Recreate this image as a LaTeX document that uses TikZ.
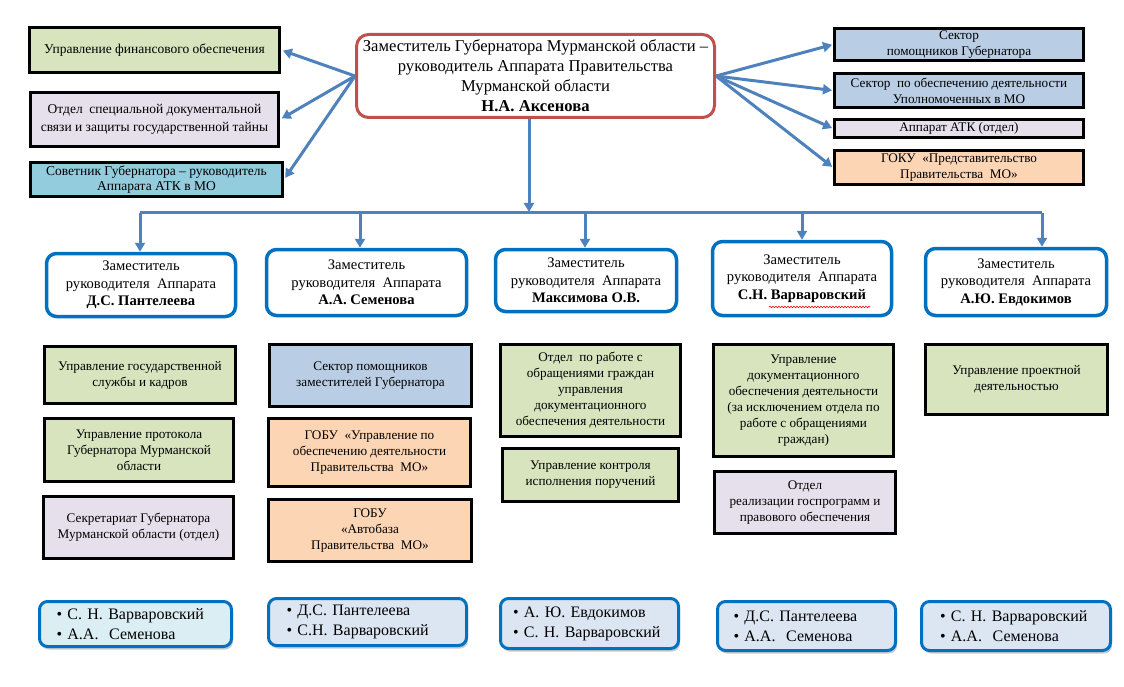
\documentclass[tikz,border=0pt]{standalone}
\usepackage{fontspec}
\setmainfont{Liberation Serif}
\usetikzlibrary{arrows.meta,shadows,decorations.pathmorphing}
\definecolor{arrblue}{HTML}{4F81BD}
\definecolor{depblue}{HTML}{0070C0}
\definecolor{redb}{HTML}{C0504D}
\definecolor{fgreen}{HTML}{D7E4BD}
\definecolor{flav}{HTML}{E6E0EC}
\definecolor{fcyan}{HTML}{93CDDD}
\definecolor{fblue}{HTML}{B9CDE5}
\definecolor{fpeach}{HTML}{FCD5B5}
\definecolor{fpa}{HTML}{DAEEF3}
\definecolor{fpb}{HTML}{DCE6F2}
\begin{document}
\begin{tikzpicture}[x=1pt,y=-1pt,
  unit/.style={draw=black, line width=3pt, inner sep=1pt, align=center, font=\fontsize{13.2}{16}\selectfont},
  ctrbox/.style={draw=redb, line width=3pt, rounded corners=12pt, fill=white, align=center, inner sep=1pt, font=\fontsize{16.6}{20}\selectfont},
  dep/.style={draw=depblue, line width=3.5pt, rounded corners=10pt, fill=white, align=center, inner sep=1pt, font=\fontsize{14.6}{17.5}\selectfont},
  pbox/.style={draw=depblue, line width=3pt, rounded corners=8pt, align=left, inner sep=1pt, font=\fontsize{16}{20}\selectfont,
    drop shadow={shadow xshift=1.5pt, shadow yshift=-3pt, fill=black!60, opacity=0.35}},
  arr/.style={draw=arrblue, line width=3pt, -{Triangle[length=9pt,width=10pt]}},
  bus/.style={draw=arrblue, line width=3pt}
]
\useasboundingbox (0,0) rectangle (1124,687);

% top left
\node[unit, fill=fgreen, minimum width=250, minimum height=45, font=\fontsize{13.5}{16}\selectfont] (fin) at (154.5,50) {Управление финансового обеспечения};
\node[unit, fill=flav, minimum width=248, minimum height=54, font=\fontsize{13.5}{18}\selectfont] (spec) at (154.5,119.5) {Отдел\ \ специальной документальной\\связи и защиты государственной тайны};
\node[unit, fill=fcyan, minimum width=252, minimum height=34, font=\fontsize{13.5}{15}\selectfont] (sov) at (156.5,179.5) {Советник Губернатора – руководитель\\Аппарата АТК в МО};

% center
\node[ctrbox, minimum width=358, minimum height=83] (ctr) at (535.5,76) {Заместитель Губернатора Мурманской области –\\руководитель Аппарата Правительства\\Мурманской области\\\textbf{Н.А. Аксенова}};

% top right
\node[unit, fill=fblue, minimum width=249, minimum height=32] (sp) at (959,44.5) {Сектор\\помощников Губернатора};
\node[unit, fill=fblue, minimum width=249, minimum height=34] (so) at (959,90.5) {Сектор\ \ по обеспечению деятельности\\Уполномоченных в МО};
\node[unit, fill=flav, minimum width=249, minimum height=18] (atk) at (959,128.5) {Аппарат АТК (отдел)};
\node[unit, fill=fpeach, minimum width=249, minimum height=34] (goku) at (959,167.5) {ГОКУ\ \ «Представительство\\Правительства\ \ МО»};

% arrows from center
\draw[arr, shorten >=2pt] (ctr.west) -- (fin.east);
\draw[arr, shorten >=2pt] (ctr.west) -- (spec.east);
\draw[arr, shorten >=2pt] (ctr.west) -- (sov.east);
\draw[arr, shorten >=1pt] (ctr.east) -- (sp.west);
\draw[arr, shorten >=1pt] (ctr.east) -- (so.west);
\draw[arr, shorten >=1pt] (ctr.east) -- (atk.west);
\draw[arr, shorten >=1pt] (ctr.east) -- (goku.west);

% deputies
\node[dep, minimum width=189, minimum height=63] (d1) at (141,285) {Заместитель\\руководителя\ \ Аппарата\\\textbf{Д.С. Пантелеева}};
\node[dep, minimum width=200, minimum height=66] (d2) at (366.5,282.5) {Заместитель\\руководителя\ \ Аппарата\\\textbf{А.А. Семенова}};
\node[dep, minimum width=181, minimum height=62] (d3) at (586,280.5) {Заместитель\\руководителя\ \ Аппарата\\\textbf{Максимова О.В.}};
\node[dep, minimum width=179, minimum height=74] (d4) at (802,278.5) {Заместитель\\руководителя\ \ Аппарата\\\textbf{С.Н. Варваровский}};
\node[dep, minimum width=181, minimum height=67] (d5) at (1016,282) {Заместитель\\руководителя\ \ Аппарата\\\textbf{А.Ю. Евдокимов}};
\draw[red, line width=0.6pt, decorate, decoration={snake, amplitude=0.8pt, segment length=3pt}] (769,307) -- (870,307);

% bus
\coordinate (bc) at (529,213);
\coordinate (b1) at (140,213);
\coordinate (b2) at (360,213);
\coordinate (b3) at (585,213);
\coordinate (b4) at (802,213);
\coordinate (b5) at (1042,213);
\draw[arr, shorten >=1pt] (ctr.south -| bc) -- (bc);
\draw[bus] (b1) -- (b5);
\draw[arr] (b1) -- (d1.north -| b1);
\draw[arr] (b2) -- (d2.north -| b2);
\draw[arr] (b3) -- (d3.north -| b3);
\draw[arr] (b4) -- (d4.north -| b4);
\draw[arr] (b5) -- (d5.north -| b5);

% units column 1
\node[unit, fill=fgreen, minimum width=191, minimum height=57] (g1) at (140,375) {Управление государственной\\службы и кадров};
\node[unit, fill=fgreen, minimum width=189, minimum height=63] (g2) at (139,450) {Управление протокола\\Губернатора Мурманской\\области};
\node[unit, fill=flav, minimum width=190, minimum height=62] (g3) at (138.5,527.5) {Секретариат Губернатора\\Мурманской области (отдел)};
% column 2
\node[unit, fill=fblue, minimum width=202, minimum height=62] (s1) at (370.5,375.5) {Сектор помощников\\заместителей Губернатора};
\node[unit, fill=fpeach, minimum width=202, minimum height=68] (s2) at (369.5,452.5) {ГОБУ\ \ «Управление по\\обеспечению деятельности\\Правительства\ \ МО»};
\node[unit, fill=fpeach, minimum width=203, minimum height=62] (s3) at (370,530.5) {ГОБУ\\«Автобаза\\Правительства\ \ МО»};
% column 3
\node[unit, fill=fgreen, minimum width=180, minimum height=92] (m1) at (590.5,390.5) {Отдел\ \ по работе с\\обращениями граждан\\управления\\документационного\\обеспечения деятельности};
\node[unit, fill=fgreen, minimum width=176, minimum height=53] (m2) at (590.5,475) {Управление контроля\\исполнения поручений};
% column 4
\node[unit, fill=fgreen, minimum width=180, minimum height=112] (v1) at (803.5,400.5) {Управление\\документационного\\обеспечения деятельности\\(за исключением отдела по\\работе с обращениями\\граждан)};
\node[unit, fill=flav, minimum width=181, minimum height=62] (v2) at (805,502.5) {Отдел\\реализации госпрограмм и\\правового обеспечения};
% column 5
\node[unit, fill=fgreen, minimum width=182, minimum height=70] (e1) at (1016.5,379.5) {Управление проектной\\деятельностью};

% bottom
\node[pbox, fill=fpa, minimum width=192, minimum height=45, text width=158] (p1) at (135.5,624) {• С. Н. Варваровский\\• А.А.\ \ Семенова};
\node[pbox, fill=fpb, minimum width=198, minimum height=47, text width=162] (p2) at (367.5,622) {• Д.С. Пантелеева\\• С.Н. Варваровский};
\node[pbox, fill=fpb, minimum width=178, minimum height=50, text width=153] (p3) at (589.5,623.5) {• А. Ю. Евдокимов\\• С. Н. Варваровский};
\node[pbox, fill=fpb, minimum width=178, minimum height=49, text width=146] (p4) at (806.5,626) {• Д.С. Пантелеева\\• А.А.\ \ Семенова};
\node[pbox, fill=fpb, minimum width=189, minimum height=49, text width=152] (p5) at (1016,626) {• С. Н. Варваровский\\• А.А.\ \ Семенова};
\end{tikzpicture}
\end{document}
